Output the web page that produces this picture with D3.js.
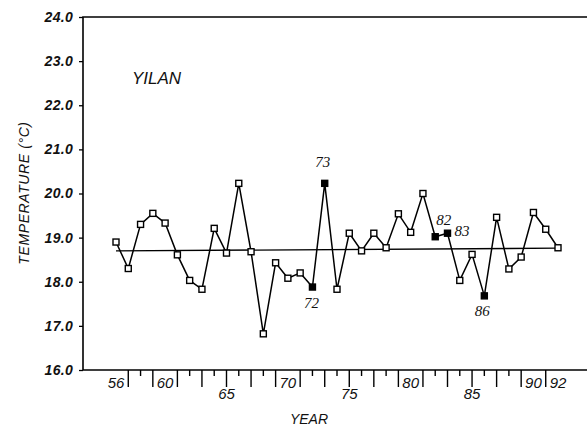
<!DOCTYPE html>
<html>
<head>
<meta charset="utf-8">
<script src="https://cdn.jsdelivr.net/npm/d3@7"></script>
<style>
  body { margin: 0; background: #fff; }
  svg { display: block; }
</style>
</head>
<body>
<svg id="chart" width="587" height="428"></svg>
<script>
// Annual mean temperature, Yilan station, 1956–1992
const years = [56, 57, 58, 59, 60, 61, 62, 63, 64, 65, 66, 67, 68, 69, 70, 71, 72, 73, 74,
               75, 76, 77, 78, 79, 80, 81, 82, 83, 84, 85, 86, 87, 88, 89, 90, 91, 92];
const temps = [18.90, 18.30, 19.30, 19.55, 19.33, 18.61, 18.03, 17.83, 19.21, 18.65,
               20.23, 18.68, 16.82, 18.43, 18.08, 18.20, 17.88, 20.23, 17.83, 19.10,
               18.70, 19.10, 18.77, 19.54, 19.12, 20.00, 19.02, 19.10, 18.03, 18.62,
               17.68, 19.46, 18.29, 18.56, 19.57, 19.19, 18.77];
// Years singled out with solid markers and labels
const markedYears = [72, 73, 82, 83, 86];
// Linear trend line end points
const trendYears = [56, 92];
const trendTemps = [18.70, 18.76];
// Axis ticks
const yTicks = [16, 17, 18, 19, 20, 21, 22, 23, 24];
const xInlineLabels = [56, 60, 70, 80, 90, 92];
const xLowerLabels = [65, 75, 85];

const data = years.map((yr, i) => ({ year: yr, temp: temps[i], marked: markedYears.includes(yr) }));

const svg = d3.select("#chart");
const sans = "'Liberation Sans', Arial, Helvetica, sans-serif";
const serif = "'Liberation Serif', 'Times New Roman', serif";

const frame = { left: 83, right: 587, top: 17, bottom: 370 };

const x = d3.scaleLinear().domain([56, 92]).range([116, 558]);
const y = d3.scaleLinear().domain([16, 24]).range([frame.bottom, frame.top]);

// Frame: left, top and bottom rules (open on the right)
svg.append("path")
  .attr("d", `M${frame.right},${frame.top}H${frame.left}V${frame.bottom}H${frame.right}`)
  .attr("fill", "none").attr("stroke", "#000").attr("stroke-width", 1.6);

// Y axis
const yAxis = d3.axisLeft(y).tickValues(yTicks).tickFormat(d3.format(".1f"))
  .tickSize(4).tickPadding(6);
const gy = svg.append("g").attr("transform", `translate(${frame.left},0)`).call(yAxis);
gy.select(".domain").remove();
gy.selectAll(".tick line").attr("stroke", "#000").attr("stroke-width", 1.3);
gy.selectAll(".tick text")
  .attr("font-family", sans).attr("font-size", 14).attr("font-style", "italic")
  .attr("font-weight", "bold").attr("letter-spacing", 0.3).attr("fill", "#111");

// X axis: a tick for every unlabelled year, long on odd years and short on even
const gx = svg.append("g");
const tickYears = years.filter(yr => !xInlineLabels.includes(yr));
gx.selectAll("line.tick")
  .data(tickYears)
  .join("line")
  .attr("class", "tick")
  .attr("x1", d => x(d)).attr("x2", d => x(d))
  .attr("y1", frame.bottom)
  .attr("y2", d => frame.bottom + (d % 2 === 1 ? 17 : 6))
  .attr("stroke", "#000").attr("stroke-width", 1.4);

gx.selectAll("text.inline")
  .data(xInlineLabels)
  .join("text")
  .attr("class", "inline")
  .attr("x", d => x(d)).attr("y", frame.bottom + 18)
  .attr("text-anchor", "middle")
  .attr("font-family", sans).attr("font-size", 15).attr("font-style", "italic")
  .attr("fill", "#111")
  .text(d => d);

gx.selectAll("text.lower")
  .data(xLowerLabels)
  .join("text")
  .attr("class", "lower")
  .attr("x", d => x(d)).attr("y", frame.bottom + 29)
  .attr("text-anchor", "middle")
  .attr("font-family", sans).attr("font-size", 15).attr("font-style", "italic")
  .attr("fill", "#111")
  .text(d => d);

// Axis titles
svg.append("text")
  .attr("x", 309).attr("y", 424)
  .attr("text-anchor", "middle")
  .attr("font-family", sans).attr("font-size", 14).attr("font-style", "italic")
  .attr("fill", "#111")
  .text("YEAR");

svg.append("text")
  .attr("transform", "translate(29,193) rotate(-90)")
  .attr("text-anchor", "middle")
  .attr("font-family", sans).attr("font-size", 14).attr("font-style", "italic")
  .attr("letter-spacing", 0.6)
  .attr("fill", "#111")
  .text("TEMPERATURE (°C)");

// Station name
svg.append("text")
  .attr("x", 132).attr("y", 84)
  .attr("font-family", sans).attr("font-size", 17).attr("font-style", "italic")
  .attr("fill", "#111")
  .text("YILAN");

// Trend line
svg.append("line")
  .attr("x1", x(trendYears[0])).attr("y1", y(trendTemps[0]))
  .attr("x2", x(trendYears[1])).attr("y2", y(trendTemps[1]))
  .attr("stroke", "#000").attr("stroke-width", 1.3);

// Temperature series
const line = d3.line().x(d => x(d.year)).y(d => y(d.temp));
svg.append("path")
  .datum(data)
  .attr("d", line)
  .attr("fill", "none").attr("stroke", "#000").attr("stroke-width", 1.5)
  .attr("stroke-linejoin", "miter");

const m = 6;
svg.selectAll("rect.pt")
  .data(data)
  .join("rect")
  .attr("class", "pt")
  .attr("x", d => x(d.year) - m / 2).attr("y", d => y(d.temp) - m / 2)
  .attr("width", m).attr("height", m)
  .attr("fill", d => d.marked ? "#000" : "#fff")
  .attr("stroke", "#000").attr("stroke-width", 1.4);

// Year labels next to the solid markers
const labelOffset = {
  72: { dx: -1, dy: 21, anchor: "middle" },
  73: { dx: -2, dy: -16, anchor: "middle" },
  82: { dx: 1, dy: -12, anchor: "start" },
  83: { dx: 7, dy: 3, anchor: "start" },
  86: { dx: -2, dy: 20, anchor: "middle" }
};
svg.selectAll("text.mark")
  .data(data.filter(d => d.marked))
  .join("text")
  .attr("class", "mark")
  .attr("x", d => x(d.year) + labelOffset[d.year].dx)
  .attr("y", d => y(d.temp) + labelOffset[d.year].dy)
  .attr("text-anchor", d => labelOffset[d.year].anchor)
  .attr("font-family", serif).attr("font-size", 15).attr("font-style", "italic")
  .attr("fill", "#111")
  .text(d => d.year);
</script>
</body>
</html>
